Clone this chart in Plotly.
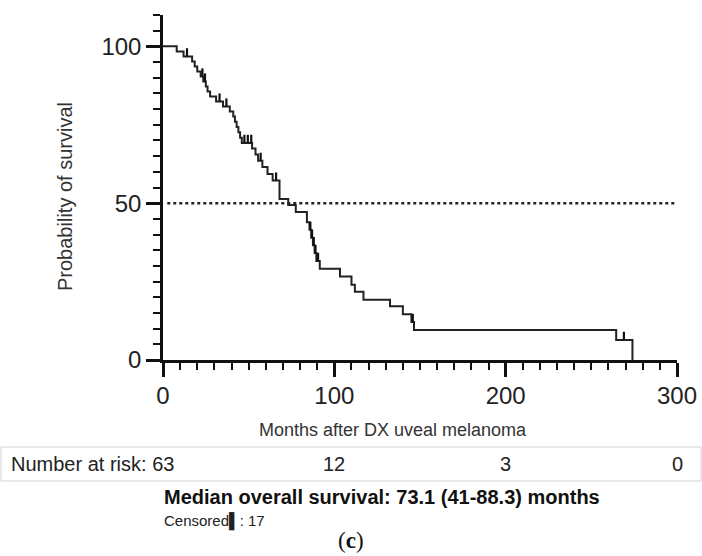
import numpy as np
import plotly.graph_objects as go

# ---- data ----
event_months = [0, 8, 12, 17, 18.5, 20, 22, 23.5, 25, 26, 27.5, 31, 35, 39, 41, 42, 43, 44, 45, 46,
                52, 54, 55.5, 58, 61, 64, 68, 73.1, 77.5, 84, 85.5, 86.5, 87.5, 88.5, 89.5, 91.5,
                103.3, 110, 112, 117, 132.5, 140, 145, 146.5, 264.5, 274]
survival_pct = [100, 98.4, 96.8, 95.2, 93.6, 92.0, 90.4, 88.8, 87.2, 85.6, 84.0, 82.4, 80.8, 79.2, 77.6, 76.0, 74.3, 72.6, 70.9, 69.2,
                67.4, 65.5, 63.5, 61.5, 59.3, 57.2, 51.3, 49.4, 47.2, 43.9, 41.5, 39.0, 36.6, 34.1, 31.6, 29.1,
                26.6, 24.0, 21.8, 19.2, 17.1, 14.6, 12.1, 9.6, 6.4, 0]
censored_months = [14, 23, 24.5, 33, 37, 47.5, 49.5, 51.5, 57, 66, 86, 87, 88, 89, 90.5, 145.8, 269]

x_ticks = [0, 100, 200, 300]
y_ticks = [0, 50, 100]
risk_months = [0, 100, 200, 300]
risk_numbers = ["63", "12", "3", "0"]
median_text = "Median overall survival: 73.1 (41-88.3) months"
censored_count = 17

# survival value at each censor time, from the step function above
ev = np.array(event_months)
sv = np.array(survival_pct)
cens_y = [sv[np.searchsorted(ev, t, side="right") - 1] for t in censored_months]

# ---- layout helpers (pixel -> paper) ----
L, T, W, H = 163, 15, 514, 345
def px(x):
    return (x - L) / W
def py(y):
    return (T + H - y) / H

fig = go.Figure()

# median reference line
fig.add_trace(go.Scatter(x=[2.5, 300], y=[50, 50], mode="lines",
                         line=dict(color="#222", width=2.5, dash="3px,3px"),
                         hoverinfo="skip", showlegend=False))

# KM step curve
fig.add_trace(go.Scatter(x=event_months, y=survival_pct, mode="lines",
                         line=dict(color="#222", width=2, shape="hv"),
                         showlegend=False))

# censor ticks
fig.add_trace(go.Scatter(x=censored_months, y=cens_y, mode="markers",
                         marker=dict(size=0.1, color="#111"),
                         error_y=dict(type="data", symmetric=False,
                                      array=[2.6] * len(censored_months),
                                      arrayminus=[0] * len(censored_months),
                                      thickness=2.2, width=0, color="#111"),
                         showlegend=False))

axis_font = dict(family="Liberation Sans, Arial, sans-serif", size=24, color="#222")

fig.update_layout(
    width=702, height=556,
    margin=dict(l=L, r=702 - L - W, t=T, b=556 - T - H),
    paper_bgcolor="white", plot_bgcolor="white",
    showlegend=False,
    xaxis=dict(range=[0, 300], tickvals=x_ticks, ticktext=[str(v) for v in x_ticks],
               showgrid=False, zeroline=False, showline=True, linecolor="#111", linewidth=2.5,
               ticks="outside", ticklen=14, tickwidth=2.5, tickcolor="#111",
               minor=dict(dtick=10, ticks="outside", ticklen=7, tickwidth=2.2, tickcolor="#111", showgrid=False),
               tickfont=axis_font, ticklabelstandoff=-2, automargin=False, fixedrange=True),
    yaxis=dict(range=[0, 110], tickvals=y_ticks, ticktext=[str(v) for v in y_ticks],
               showgrid=False, zeroline=False, showline=True, linecolor="#111", linewidth=2.5,
               ticks="outside", ticklen=14, tickwidth=2.5, tickcolor="#111",
               minor=dict(dtick=5, ticks="outside", ticklen=7, tickwidth=2.2, tickcolor="#111", showgrid=False),
               tickfont=axis_font, automargin=False, fixedrange=True),
    font=dict(family="Liberation Sans, Arial, sans-serif", color="#222"),
)

def note(x, y, text, size, xanchor="center", xref="paper", **kw):
    return dict(x=x, y=y, xref=xref, yref="paper", text=text, showarrow=False,
                xanchor=xanchor, yanchor="middle", font=dict(size=size, **kw.pop("font", {})), **kw)

ann = []
ann.append(note(px(65), py(197), "Probability of survival", 20, textangle=-90, font=dict(color="#333")))
ann.append(note(px(393), py(430), "Months after DX uveal melanoma", 18, font=dict(color="#333")))
ann.append(note(px(176), py(464), "Number at risk: " + risk_numbers[0], 20, xanchor="right", font=dict(color="#222")))
for m, n in zip(risk_months[1:], risk_numbers[1:]):
    ann.append(note(m, py(464), n, 20, xref="x", font=dict(color="#222")))
ann.append(note(px(162), py(497), "<b>" + median_text + "</b>", 20, xanchor="left", font=dict(color="#111")))
ann.append(note(px(162), py(521), "Censored<b>▌</b>: " + str(censored_count), 15, xanchor="left", font=dict(color="#222")))
ann.append(note(px(351), py(540), "(<b>c</b>)", 23,
                font=dict(family="Liberation Serif, DejaVu Serif, serif", color="#111")))
fig.update_layout(annotations=ann)

fig.add_shape(type="rect", xref="paper", yref="paper",
              x0=px(1), x1=px(701), y0=py(447), y1=py(481),
              line=dict(color="#d0d0d0", width=1), fillcolor="rgba(0,0,0,0)")

fig.write_html("out.html", config={"displayModeBar": False},
               post_script="document.body.style.margin='0';document.body.style.overflow='hidden';")
